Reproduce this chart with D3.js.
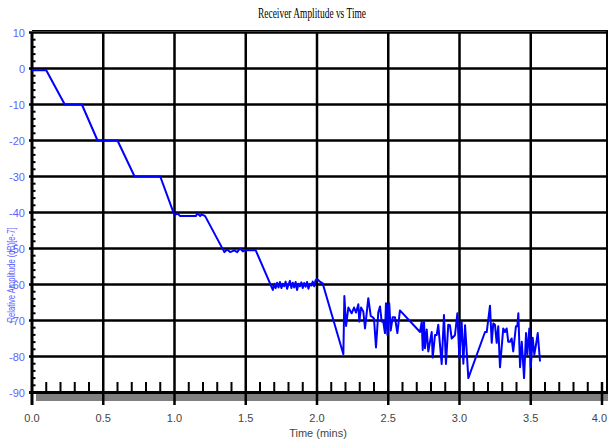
<!DOCTYPE html>
<html>
<head>
<meta charset="utf-8">
<script src="https://cdn.jsdelivr.net/npm/d3@7"></script>
<style>
  body { margin: 0; background: #fff; }
  svg { display: block; }
  .narrow { font-family: "Liberation Sans Narrow", "Arial Narrow", sans-serif; }
</style>
</head>
<body>
<svg id="chart" width="608" height="444"></svg>
<script>
// Receiver amplitude vs time

// chart size
const svgWidth = 608;
const svgHeight = 444;

// time in minutes
const times = [0, 0.10, 0.23, 0.35, 0.46, 0.60, 0.72, 0.90, 1.00, 1.02, 1.04, 1.10, 1.15, 1.16, 1.18, 1.19, 1.215,
  1.35, 1.37, 1.39, 1.42, 1.44, 1.46, 1.48, 1.50, 1.57,
  1.69, 1.70, 1.71, 1.72, 1.73, 1.74, 1.75, 1.76, 1.77, 1.78, 1.79, 1.80, 1.81, 1.82, 1.83, 1.84, 1.85, 1.86,
  1.87, 1.88, 1.89, 1.90, 1.91, 1.92, 1.93, 1.94, 1.95, 1.96, 1.97, 1.98, 1.99, 2.00, 2.02, 2.04,
  2.185, 2.192, 2.204, 2.220, 2.243, 2.260, 2.274, 2.290, 2.297, 2.309, 2.325, 2.337, 2.360, 2.377, 2.391,
  2.400, 2.414, 2.430, 2.442, 2.454, 2.465, 2.477, 2.484, 2.494, 2.507, 2.517, 2.531, 2.547, 2.564, 2.582,
  2.723, 2.735, 2.742, 2.751, 2.758, 2.770, 2.781, 2.805, 2.812, 2.828, 2.840, 2.851, 2.875, 2.891, 2.905,
  2.921, 2.933, 2.945, 2.968, 2.985, 2.999, 3.015, 3.027, 3.039, 3.062,
  3.179, 3.191, 3.214, 3.226, 3.237, 3.249, 3.261, 3.272, 3.284, 3.307, 3.319, 3.331, 3.342, 3.354, 3.366,
  3.377, 3.396, 3.406, 3.413, 3.425, 3.437, 3.453, 3.467, 3.476, 3.490, 3.500, 3.514, 3.525, 3.537, 3.549, 3.565];

// relative amplitude (dB)
const amplitudes = [-0.5, -0.5, -10, -10, -20, -20, -30, -30, -40.8, -40.2, -41, -41, -41, -40.2, -41, -40.5, -41,
  -51, -50.3, -51, -50.5, -51, -50, -50.8, -50.4, -50.5,
  -61.5, -59.8, -61, -59.5, -60.8, -59.3, -61, -59.8, -60.5, -59.2, -61.2, -60, -59, -61, -59.5, -60.8, -59.3, -61.5,
  -59.8, -60.5, -59.4, -61, -59.6, -60.6, -59.3, -61.2, -59.8, -60.3, -59.2, -60.5, -58.8, -58.5, -59.2, -59.7,
  -79.4, -63.2, -71.5, -66.4, -68, -66.4, -67.8, -65.5, -70.3, -66.4, -67.5, -72.2, -63.8, -68.7, -69.1,
  -69.5, -77.5, -67.8, -66.1, -70.3, -70.3, -73.5, -65.2, -74.0, -65.2, -72.8, -69.1, -69.1, -73.5, -67.2,
  -73.2, -70.3, -78.2, -70.3, -77.7, -72.5, -78.6, -73.2, -80.3, -74, -74, -71.2, -82.1, -68.5, -82.1,
  -71.2, -71.3, -75, -74.1, -68, -80.3, -70.3, -82, -71.3, -86,
  -73.2, -73.2, -65.9, -76.2, -70.8, -71.2, -76.2, -71.6, -83, -72.2, -73.2, -72.2, -75.9, -75.9, -75,
  -78.6, -71.6, -71.6, -68, -83, -75.9, -86, -73.5, -79.5, -72.2, -83, -74.8, -79.5, -76.7, -73.5, -81.4];

// tick labels
const xTicks = [0, 0.5, 1.0, 1.5, 2.0, 2.5, 3.0, 3.5, 4.0];
const yTicks = [10, 0, -10, -20, -30, -40, -50, -60, -70, -80, -90];

const points = times.map((t, i) => ({ t: t, v: amplitudes[i] }));

const svg = d3.select('svg#chart');

const x = d3.scaleLinear().domain([0, 4]).range([32, 602]);
const y = d3.scaleLinear().domain([-90, 10]).range([392.5, 32.5]);

// gray bar under the axis
svg.append('rect')
  .attr('x', 36).attr('y', 394)
  .attr('width', svgWidth - 36).attr('height', 7)
  .style('fill', '#808080');

// minor x ticks every 0.1 (the half-minute ones are grid lines)
const minorX = d3.range(1, 40).map(i => i / 10).filter(t => Math.round(t * 10) % 5 !== 0);
svg.append('g')
  .selectAll('line')
  .data(minorX)
  .enter()
  .append('line')
  .attr('x1', d => x(d)).attr('x2', d => x(d))
  .attr('y1', 382).attr('y2', y(-90))
  .style('stroke', '#000').style('stroke-width', 2);

// minor y ticks every 2 dB
const minorY = d3.range(-88, 10, 2).filter(v => v % 10 !== 0);
svg.append('g')
  .selectAll('line')
  .data(minorY)
  .enter()
  .append('line')
  .attr('x1', 32).attr('x2', 35.5)
  .attr('y1', d => y(d)).attr('y2', d => y(d))
  .style('stroke', '#000').style('stroke-width', 2);

// horizontal grid
svg.append('g')
  .selectAll('line')
  .data(yTicks)
  .enter()
  .append('line')
  .attr('x1', 29).attr('x2', svgWidth)
  .attr('y1', d => y(d)).attr('y2', d => y(d))
  .style('stroke', '#000').style('stroke-width', d => d === -90 ? 3 : 2.5);

// vertical grid, running down through the gray bar
svg.append('g')
  .selectAll('line')
  .data(xTicks)
  .enter()
  .append('line')
  .attr('x1', d => x(d)).attr('x2', d => x(d))
  .attr('y1', d => d === 4 ? 382 : y(10)).attr('y2', 405)
  .style('stroke', '#000').style('stroke-width', d => d === 0 ? 3 : 2.5);

// extra top and right border lines
svg.append('line')
  .attr('x1', 32).attr('x2', svgWidth).attr('y1', 30.5).attr('y2', 30.5)
  .style('stroke', '#000').style('stroke-width', 1);
svg.append('line')
  .attr('x1', 607).attr('x2', 607).attr('y1', 30).attr('y2', y(-90))
  .style('stroke', '#000').style('stroke-width', 2);

// the data line
const line = d3.line()
  .x(d => x(d.t))
  .y(d => y(d.v));

svg.append('path')
  .datum(points)
  .attr('d', line)
  .style('fill', 'none')
  .style('stroke', '#0000ff')
  .style('stroke-width', 2)
  .style('stroke-linejoin', 'round');

// y tick labels
svg.append('g')
  .selectAll('text')
  .data(yTicks)
  .enter()
  .append('text')
  .attr('class', 'narrow')
  .attr('x', 25)
  .attr('y', d => y(d) + 4)
  .attr('text-anchor', 'end')
  .style('font-size', '11px')
  .style('fill', '#6262ff')
  .text(d => d);

// x tick labels (the last one is pulled in so it stays inside the page)
svg.append('g')
  .selectAll('text')
  .data(xTicks)
  .enter()
  .append('text')
  .attr('class', 'narrow')
  .attr('x', d => d === 4 ? 607 : x(d))
  .attr('y', 422)
  .attr('text-anchor', d => d === 4 ? 'end' : 'middle')
  .style('font-size', '11px')
  .style('fill', '#444')
  .text(d => d.toFixed(1));

// axis titles
svg.append('text')
  .attr('class', 'narrow')
  .attr('x', 318).attr('y', 437)
  .attr('text-anchor', 'middle')
  .style('font-size', '11px')
  .style('fill', '#444')
  .text('Time (mins)');

svg.append('text')
  .attr('class', 'narrow')
  .attr('transform', 'translate(15,275) rotate(-90)')
  .attr('text-anchor', 'middle')
  .attr('textLength', 95)
  .attr('lengthAdjust', 'spacingAndGlyphs')
  .style('font-size', '11px')
  .style('fill', '#6262ff')
  .text('Relative Amplitude (dB)[e-7]');

// chart title
svg.append('text')
  .attr('x', 312).attr('y', 18)
  .attr('text-anchor', 'middle')
  .attr('textLength', 108)
  .attr('lengthAdjust', 'spacingAndGlyphs')
  .style('font-family', '"Liberation Serif", serif')
  .style('font-size', '15px')
  .style('fill', '#000')
  .text('Receiver Amplitude vs Time');
</script>
</body>
</html>
